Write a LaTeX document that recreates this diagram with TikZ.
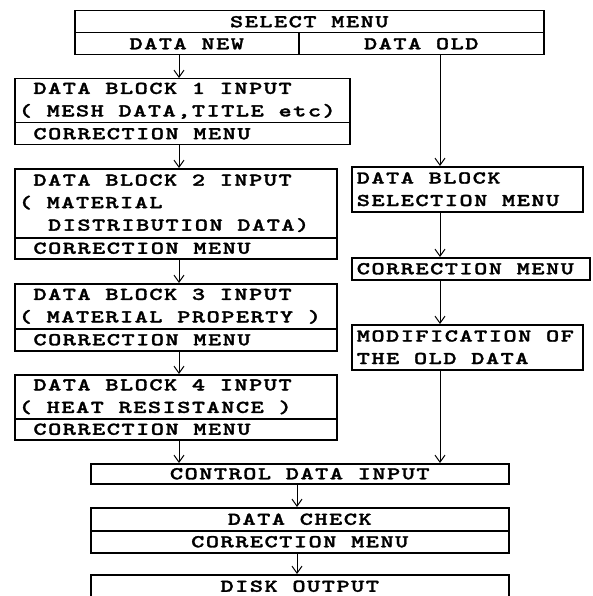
\documentclass[tikz,border=0pt]{standalone}
\usepackage{fontspec}
\setmainfont{lmmonolt10-bold.otf}[FakeStretch=1.4, LetterSpace=8, FakeBold=1.6]
\usepackage{tikz}
\usetikzlibrary{arrows.meta, calc}
\newcommand{\gap}{\leavevmode\hbox to 14.67pt{}}

\begin{document}
\begin{tikzpicture}[x=1pt, y=-1pt,
  every node/.style={font=\fontsize{18}{22.5}\selectfont, inner sep=0pt},
  cell/.style 2 args={draw, line width=1.5pt, anchor=north west,
    minimum width=#1, minimum height=#2},
  lcell/.style n args={3}{cell={#1}{#2}, text width=#3, align=left, inner xsep=4pt,
    execute at begin node={\spaceskip=0pt\xspaceskip=0pt\relax}},
  arr/.style={-{Straight Barb[length=7pt, width=10pt]}, line width=1pt}]
\useasboundingbox (0,0) rectangle (593,596);
\coordinate (lx) at (179,0);
\coordinate (rx) at (440,0);
\coordinate (cx) at (297,0);
% menu
\node[cell={469}{22}] (sel) at (74,10) {SELECT MENU};
\node[cell={224}{22}] (new) at (74,32) {DATA NEW};
\node[cell={245}{22}] (old) at (298,32) {DATA OLD};
% new data
\node[lcell={335}{44}{327}] (b1) at (14,78) {\gap DATA BLOCK 1 INPUT\\( MESH DATA,TITLE etc)};
\node[lcell={335}{22}{327}] (c1) at (14,122) {\gap CORRECTION MENU};
\node[lcell={322}{69}{314}] (b2) at (14,168) {\gap DATA BLOCK 2 INPUT\\( MATERIAL\\\gap\gap DISTRIBUTION DATA)};
\node[lcell={322}{21}{314}] (c2) at (14,237) {\gap CORRECTION MENU};
\node[lcell={322}{45}{314}] (b3) at (14,283) {\gap DATA BLOCK 3 INPUT\\( MATERIAL PROPERTY )};
\node[lcell={322}{22}{314}] (c3) at (14,328) {\gap CORRECTION MENU};
\node[lcell={322}{44}{314}] (b4) at (14,374) {\gap DATA BLOCK 4 INPUT\\( HEAT RESISTANCE )};
\node[lcell={322}{21}{314}] (c4) at (14,418) {\gap CORRECTION MENU};
% old data
\node[lcell={231}{45}{221}, inner xsep=5pt] (r1) at (351,166) {DATA BLOCK\\SELECTION MENU};
\node[lcell={238}{22}{228}, inner xsep=5pt] (r2) at (351,257) {CORRECTION MENU};
\node[lcell={231}{45}{221}, inner xsep=5pt] (r3) at (351,324) {MODIFICATION OF\\THE OLD DATA};
% common
\node[cell={418}{20}] (ctl) at (90,463) {CONTROL DATA INPUT};
\node[cell={418}{23}] (chk) at (90,507) {DATA CHECK};
\node[cell={418}{22}] (c5) at (90,530) {CORRECTION MENU};
\node[cell={418}{23}] (dsk) at (90,574) {DISK OUTPUT};
% arrows
\draw[arr] (new.south -| lx) -- (b1.north -| lx);
\draw[arr] (c1.south -| lx) -- (b2.north -| lx);
\draw[arr] (c2.south -| lx) -- (b3.north -| lx);
\draw[arr] (c3.south -| lx) -- (b4.north -| lx);
\draw[arr] (c4.south -| lx) -- (ctl.north -| lx);
\draw[arr] (old.south -| rx) -- (r1.north -| rx);
\draw[arr] (r1.south -| rx) -- (r2.north -| rx);
\draw[arr] (r2.south -| rx) -- (r3.north -| rx);
\draw[arr] (r3.south -| rx) -- (ctl.north -| rx);
\draw[arr] (ctl.south -| cx) -- (chk.north -| cx);
\draw[arr] (c5.south -| cx) -- (dsk.north -| cx);
\end{tikzpicture}
\end{document}
